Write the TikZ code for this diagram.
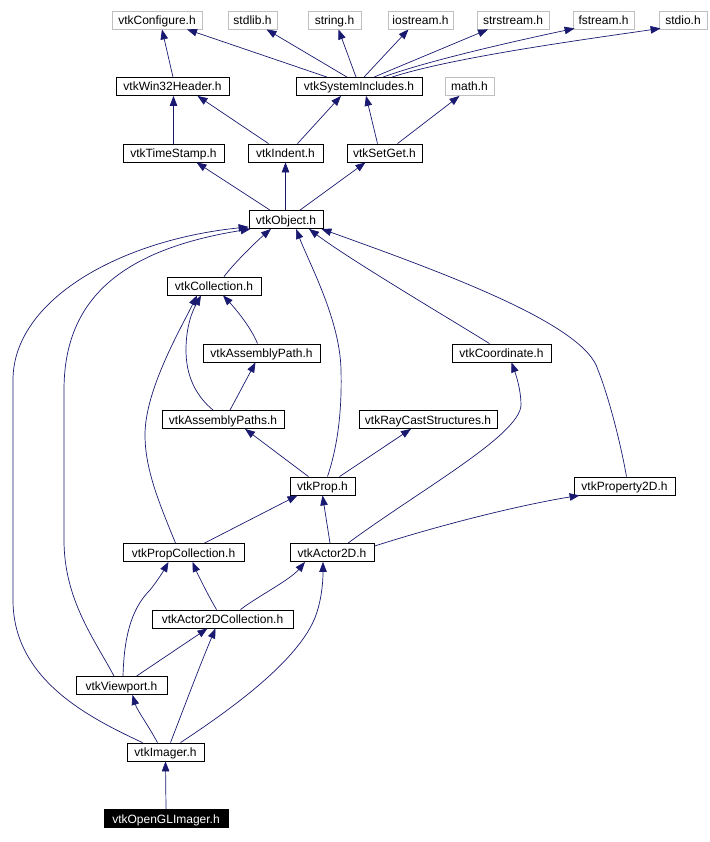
\documentclass[tikz,border=0pt]{standalone}
\usepackage{fontspec}
\setmainfont{Liberation Sans}
\usetikzlibrary{arrows.meta}
\definecolor{edgeblue}{RGB}{25,25,112}
\definecolor{grayline}{RGB}{191,191,191}
\begin{document}
\begin{tikzpicture}[x=1pt,y=-1pt,
  box/.style={draw=black, line width=0.8pt, minimum height=18pt, inner sep=0pt,
    text height=9.5pt, text depth=0.5pt, font=\fontsize{12}{14}\selectfont, fill=white},
  ext/.style={box, draw=grayline},
  focus/.style={box, fill=black, text=white},
  edge/.style={draw=edgeblue, line width=0.7pt, -{Triangle[length=10pt,width=7.5pt]}}]
\useasboundingbox (0,0) rectangle (709,842);
% row 1
\node[ext, minimum width=90pt] (conf) at (157,20) {vtkConfigure.h};
\node[ext, minimum width=49pt] (stdlib) at (252.5,20) {stdlib.h};
\node[ext, minimum width=53pt] (string) at (334.5,20) {string.h};
\node[ext, minimum width=65pt] (iostream) at (420.5,20) {iostream.h};
\node[ext, minimum width=72pt] (strstream) at (513,20) {strstream.h};
\node[ext, minimum width=61pt] (fstream) at (603.5,20) {fstream.h};
\node[ext, minimum width=48pt] (stdio) at (683,20) {stdio.h};
% row 2
\node[box, minimum width=113pt] (win32) at (172.5,86.5) {vtkWin32Header.h};
\node[box, minimum width=126pt] (sysincl) at (359,86.5) {vtkSystemIncludes.h};
\node[ext, minimum width=49pt] (math) at (469.5,86.5) {math.h};
% row 3
\node[box, minimum width=101pt] (timestamp) at (173.5,153) {vtkTimeStamp.h};
\node[box, minimum width=75pt] (indent) at (285.5,153) {vtkIndent.h};
\node[box, minimum width=75pt] (setget) at (384.5,153) {vtkSetGet.h};
% row 4
\node[box, minimum width=74pt] (object) at (286,219.5) {vtkObject.h};
% row 5
\node[box, minimum width=94pt] (collection) at (214,286) {vtkCollection.h};
% row 6
\node[box, minimum width=117pt] (asmpath) at (261.5,353) {vtkAssemblyPath.h};
\node[box, minimum width=99pt] (coord) at (501.5,353) {vtkCoordinate.h};
% row 7
\node[box, minimum width=122pt] (asmpaths) at (223,419.5) {vtkAssemblyPaths.h};
\node[box, minimum width=138pt] (raycast) at (428,419.5) {vtkRayCastStructures.h};
% row 8
\node[box, minimum width=65pt] (prop) at (322.5,486) {vtkProp.h};
\node[box, minimum width=101pt] (property2d) at (624.5,486) {vtkProperty2D.h};
% row 9
\node[box, minimum width=121pt] (propcoll) at (183.5,552.5) {vtkPropCollection.h};
\node[box, minimum width=84pt] (actor2d) at (332,552.5) {vtkActor2D.h};
% row 10
\node[box, minimum width=141pt] (a2dcoll) at (222.5,619) {vtkActor2DCollection.h};
% row 11
\node[box, minimum width=91pt] (viewport) at (121.5,685.5) {vtkViewport.h};
% row 12
\node[box, minimum width=77pt] (imager) at (165.5,752) {vtkImager.h};
% row 13
\node[focus, minimum width=124pt] (opengl) at (166,818.5) {vtkOpenGLImager.h};

% edges to row 1
\draw[edge] ([xshift=0.5pt]win32.north) -- ([xshift=5pt]conf.south);
\draw[edge] ([xshift=-32pt]sysincl.north) -- ([xshift=30pt]conf.south);
\draw[edge] ([xshift=-12pt]sysincl.north) -- ([xshift=14pt]stdlib.south);
\draw[edge] ([xshift=-3pt]sysincl.north) -- ([xshift=4pt]string.south);
\draw[edge] ([xshift=5pt]sysincl.north) -- ([xshift=-12pt]iostream.south);
\draw[edge] ([xshift=15pt]sysincl.north) -- ([xshift=-25pt]strstream.south);
\draw[edge] ([xshift=24pt]sysincl.north) .. controls (430,60) and (520,40) .. ([xshift=2pt,yshift=1pt]fstream.south west);
\draw[edge] ([xshift=33pt]sysincl.north) .. controls (450,58) and (580,40) .. ([xshift=2pt,yshift=1pt]stdio.south west);
% edges to row 2
\draw[edge] (timestamp.north) -- ([xshift=1pt]win32.south);
\draw[edge] ([xshift=-17pt]indent.north) -- ([xshift=25pt]win32.south);
\draw[edge] ([xshift=12pt]indent.north) -- ([xshift=-18pt]sysincl.south);
\draw[edge] ([xshift=-7pt]setget.north) -- ([xshift=7pt]sysincl.south);
\draw[edge] ([xshift=13pt]setget.north) -- ([xshift=-10pt]math.south);
% edges to row 3
\draw[edge] ([xshift=-16pt]object.north) -- ([xshift=23pt]timestamp.south);
\draw[edge] ([xshift=-0.5pt]object.north) -- (indent.south);
\draw[edge] ([xshift=14pt]object.north) -- ([xshift=-19pt]setget.south);
% edges to vtkObject
\draw[edge] ([xshift=10pt]collection.north) .. controls (235,262) and (258,240) .. ([xshift=-15pt]object.south);
\draw[edge] ([xshift=-12pt]coord.north) .. controls (460,325) and (350,260) .. ([xshift=23pt]object.south);
\draw[edge] ([xshift=2pt]property2d.north) .. controls (620,440) and (608,395) .. (598,370)
  .. controls (585,325) and (450,275) .. ([xshift=-2pt]object.south east);
\draw[edge] ([xshift=5pt]prop.north) .. controls (338,445) and (342,410) .. (341,370)
  .. controls (340,320) and (310,265) .. ([xshift=10pt]object.south);
\draw[edge] ([xshift=-7.5pt]viewport.north) .. controls (95,640) and (64,600) .. (64,540) -- (64,390)
  .. controls (64,300) and (120,250) .. ([xshift=2pt]object.south west);
\draw[edge] ([xshift=-23pt]imager.north) .. controls (90,718) and (13,680) .. (13,600) -- (13,380)
  .. controls (13,300) and (120,240) .. ([yshift=2pt]object.south west);
% edges to vtkCollection
\draw[edge] ([xshift=-4pt]asmpath.north) .. controls (250,325) and (232,305) .. ([xshift=9pt]collection.south);
\draw[edge] ([xshift=-10pt]asmpaths.north) .. controls (195,395) and (186,375) .. (186,350)
  .. controls (186,325) and (193,310) .. ([xshift=-13pt]collection.south);
\draw[edge] ([xshift=-8pt]propcoll.north) .. controls (160,505) and (145,470) .. (145,435)
  .. controls (145,390) and (180,330) .. ([xshift=-17pt]collection.south);
% middle edges
\draw[edge] ([xshift=7pt]asmpaths.north) -- ([xshift=-6pt]asmpath.south);
\draw[edge] ([xshift=-14pt]prop.north) -- ([xshift=22pt]asmpaths.south);
\draw[edge] ([xshift=17pt]prop.north) -- ([xshift=-17pt]raycast.south);
\draw[edge] ([xshift=21pt]propcoll.north) -- ([xshift=-25pt]prop.south);
\draw[edge] ([xshift=-2pt]actor2d.north) -- (prop.south);
\draw[edge] ([xshift=16pt]actor2d.north) .. controls (420,490) and (520,435) .. (521,405)
  .. controls (521,390) and (516,375) .. ([xshift=10pt]coord.south);
\draw[edge] ([yshift=-3pt]actor2d.north east) .. controls (440,525) and (520,505) .. ([xshift=6pt]property2d.south west);
% lower edges
\draw[edge] ([xshift=-6pt]a2dcoll.north) .. controls (208,595) and (198,575) .. ([xshift=9pt]propcoll.south);
\draw[edge] ([xshift=18pt]a2dcoll.north) .. controls (255,598) and (290,580) .. ([xshift=-27pt]actor2d.south);
\draw[edge] ([xshift=1.5pt]viewport.north) .. controls (124,640) and (130,610) .. (150,590)
  .. controls (158,580) and (164,570) .. ([xshift=-15pt]propcoll.south);
\draw[edge] ([xshift=15pt]viewport.north) -- ([xshift=-15pt]a2dcoll.south);
\draw[edge] ([xshift=-8pt]imager.north) .. controls (148,725) and (137,710) .. ([xshift=11pt]viewport.south);
\draw[edge] ([xshift=5pt]imager.north) .. controls (185,705) and (200,665) .. ([xshift=-7pt]a2dcoll.south);
\draw[edge] ([xshift=15pt]imager.north) .. controls (230,710) and (300,660) .. (316,615)
  .. controls (323,595) and (323,575) .. ([xshift=-9pt]actor2d.south);
\draw[edge] (opengl.north) -- (imager.south);
\end{tikzpicture}
\end{document}
